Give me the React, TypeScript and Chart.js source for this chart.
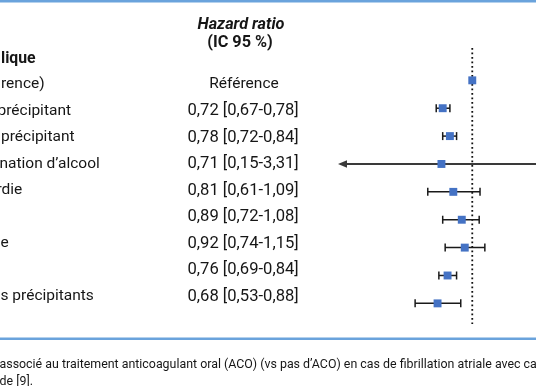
import React, { useEffect, useRef } from "react";
import { Chart, registerables } from "chart.js";

Chart.register(...registerables);

// ---- data ----
const rowLabels = ["rence)", "précipitant", "précipitant", "nation d’alcool", "rdie", "", "e", "", "s précipitants"];
const hrTexts = [
  "Référence",
  "0,72 [0,67-0,78]",
  "0,78 [0,72-0,84]",
  "0,71 [0,15-3,31]",
  "0,81 [0,61-1,09]",
  "0,89 [0,72-1,08]",
  "0,92 [0,74-1,15]",
  "0,76 [0,69-0,84]",
  "0,68 [0,53-0,88]",
];
const hrValues = [1, 0.72, 0.78, 0.71, 0.81, 0.89, 0.92, 0.76, 0.68];
const ciLow: (number | null)[] = [null, 0.67, 0.72, 0.15, 0.61, 0.72, 0.74, 0.69, 0.53];
const ciHigh: (number | null)[] = [null, 0.78, 0.84, 3.31, 1.09, 1.08, 1.15, 0.84, 0.88];
const groupHeader = "lique";
const columnHeader = ["Hazard ratio", "(IC 95 %)"];
const footerLines = [
  "associé au traitement anticoagulant oral (ACO) (vs pas d’ACO) en cas de fibrillation atriale avec ca",
  "de [9].",
];
const referenceValue = 1;

// ---- style ----
const FONT = "Roboto";
const TEXT_COLOR = "#161616";
const MARKER_COLOR = "#4472c4";
const RULE_COLOR = "#6aa3dc";
const labelShift = [1, -2.5, 1, -0.5, -3.5, 0, 0.5, 0, 0.5];
const TEXT_ROW_TOP = 84.5;
const TEXT_ROW_STEP = 26.5;

const forestPlugin = {
  id: "forest",
  beforeDatasetsDraw(chart: any) {
    const { ctx, chartArea, scales } = chart;
    const xs = scales.x;
    const ys = scales.y;
    ctx.save();
    // reference dotted line
    const xr = xs.getPixelForValue(referenceValue);
    ctx.strokeStyle = "#111";
    ctx.lineWidth = 1.8;
    ctx.setLineDash([1.8, 2.7]);
    ctx.beginPath();
    ctx.moveTo(xr, chartArea.top);
    ctx.lineTo(xr, chartArea.bottom);
    ctx.stroke();
    ctx.setLineDash([]);
    // error bars
    for (let i = 0; i < hrValues.length; i++) {
      const lo = ciLow[i];
      const hi = ciHigh[i];
      if (lo == null || hi == null) continue;
      const y = ys.getPixelForValue(i);
      const clipLeft = lo < xs.min;
      const clipRight = hi > xs.max;
      const x1 = clipLeft ? chartArea.left : xs.getPixelForValue(lo);
      const x2 = clipRight ? chartArea.right : xs.getPixelForValue(hi);
      const clipped = clipLeft || clipRight;
      ctx.strokeStyle = clipped ? "#3a3a3a" : "#1a1a1a";
      ctx.fillStyle = ctx.strokeStyle;
      ctx.lineWidth = clipped ? 2 : 1.5;
      ctx.beginPath();
      ctx.moveTo(clipLeft ? x1 + 6 : x1, y);
      ctx.lineTo(x2, y);
      ctx.stroke();
      if (!clipLeft) {
        ctx.beginPath();
        ctx.moveTo(x1, y - 4);
        ctx.lineTo(x1, y + 4);
        ctx.stroke();
      } else {
        ctx.beginPath();
        ctx.moveTo(x1, y);
        ctx.lineTo(x1 + 9, y - 3.8);
        ctx.lineTo(x1 + 9, y + 3.8);
        ctx.closePath();
        ctx.fill();
      }
      if (!clipRight) {
        ctx.beginPath();
        ctx.moveTo(x2, y - 4);
        ctx.lineTo(x2, y + 4);
        ctx.stroke();
      }
    }
    ctx.restore();
  },
  afterDraw(chart: any) {
    const { ctx } = chart;
    const W = chart.width;
    ctx.save();
    ctx.textBaseline = "middle";
    // rules
    ctx.fillStyle = RULE_COLOR;
    ctx.fillRect(0, 0, W, 2.5);
    ctx.fillRect(0, 337.5, W, 2.5);
    ctx.fillStyle = TEXT_COLOR;
    // column header
    ctx.textAlign = "center";
    ctx.font = `italic bold 16.3px ${FONT}`;
    ctx.fillText(columnHeader[0], 241, 25);
    ctx.font = `bold 16.3px ${FONT}`;
    ctx.fillText(columnHeader[1], 240, 43);
    // group header
    ctx.textAlign = "left";
    ctx.font = `bold 15.8px ${FONT}`;
    ctx.fillText(groupHeader, 1, 59);
    // rows
    for (let i = 0; i < rowLabels.length; i++) {
      const y = TEXT_ROW_TOP + TEXT_ROW_STEP * i;
      ctx.textAlign = "left";
      ctx.font = `15.5px ${FONT}`;
      if (rowLabels[i]) ctx.fillText(rowLabels[i], labelShift[i], y);
      if (ciLow[i] == null) {
        ctx.textAlign = "center";
        ctx.fillText(hrTexts[i], 244, y);
      } else {
        ctx.textAlign = "left";
        ctx.font = `16.6px ${FONT}`;
        ctx.fillText(hrTexts[i], 187.5, y);
      }
    }
    // footer
    ctx.textAlign = "left";
    ctx.font = `12.4px ${FONT}`;
    ctx.fillText(footerLines[0], -0.5, 364.5);
    ctx.fillText(footerLines[1], -0.5, 381.5);
    ctx.restore();
  },
};

export default function App() {
  const ref = useRef<HTMLCanvasElement | null>(null);
  useEffect(() => {
    if (!ref.current) return;
    const chart = new Chart(ref.current, {
      type: "scatter",
      data: {
        datasets: [
          {
            data: hrValues.map((v, i) => ({ x: v, y: i })),
            pointStyle: "rect",
            pointRadius: 5.6,
            pointHoverRadius: 5.6,
            backgroundColor: MARKER_COLOR,
            borderWidth: 0,
          },
        ],
      },
      options: {
        animation: false,
        responsive: false,
        events: [],
        layout: { autoPadding: false, padding: { left: 338, right: 0, top: 48, bottom: 62 } },
        plugins: { legend: { display: false }, tooltip: { enabled: false } },
        scales: {
          x: { type: "logarithmic", min: 0.225, max: 2.03, display: false },
          y: { type: "linear", reverse: true, min: -1.16, max: 8.74, display: false },
        },
      },
      plugins: [forestPlugin],
    });
    return () => chart.destroy();
  }, []);
  return (
    <div style={{ position: "fixed", left: 0, top: 0, width: 536, height: 386, background: "#fff" }}>
      <canvas ref={ref} width={536} height={386} style={{ display: "block" }} />
    </div>
  );
}
